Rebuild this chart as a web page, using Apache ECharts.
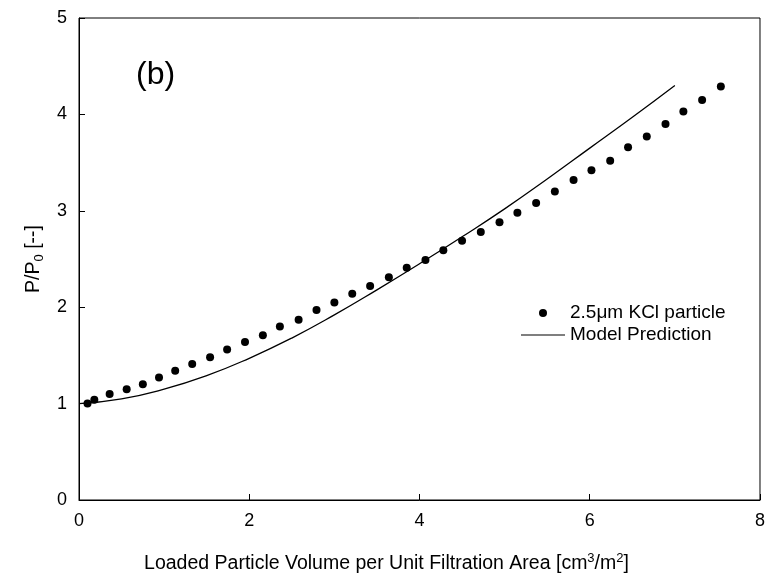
<!DOCTYPE html>
<html>
<head>
<meta charset="utf-8">
<script src="https://cdn.jsdelivr.net/npm/echarts@6/dist/echarts.min.js"></script>
<style>html,body{margin:0;padding:0;background:#fff}#c{width:768px;height:580px}</style>
</head>
<body>
<div id="c"></div>
<script>
// Measured data: 2.5 µm KCl particle
var measX = [0.10, 0.18, 0.36, 0.56, 0.75, 0.94, 1.13, 1.33, 1.54, 1.74, 1.95, 2.16, 2.36, 2.58, 2.79, 3.00, 3.21, 3.42, 3.64, 3.85, 4.07, 4.28, 4.50, 4.72, 4.94, 5.15, 5.37, 5.59, 5.81, 6.02, 6.24, 6.45, 6.67, 6.89, 7.10, 7.32, 7.54];
var measY = [1.00, 1.04, 1.10, 1.15, 1.20, 1.27, 1.34, 1.41, 1.48, 1.56, 1.64, 1.71, 1.80, 1.87, 1.97, 2.05, 2.14, 2.22, 2.31, 2.41, 2.49, 2.59, 2.69, 2.78, 2.88, 2.98, 3.08, 3.20, 3.32, 3.42, 3.52, 3.66, 3.77, 3.90, 4.03, 4.15, 4.29];
// Model prediction curve
var modelX = [0, 0.5, 1.0, 1.5, 2.0, 2.5, 3.0, 3.5, 4.0, 4.5, 5.0, 5.5, 6.0, 6.5, 7.0];
var modelY = [1.00, 1.05, 1.15, 1.29, 1.47, 1.68, 1.92, 2.18, 2.45, 2.73, 3.02, 3.33, 3.65, 3.97, 4.30];
var xTicks = [0, 2, 4, 6, 8];
var yTicks = [0, 1, 2, 3, 4, 5];
var seriesNames = ['2.5\u03bcm KCl particle', 'Model Prediction'];

function zip(a, b) { return a.map(function (v, i) { return [v, b[i]]; }); }

var FONT = '"Liberation Sans", Arial, sans-serif';
var chart = echarts.init(document.getElementById('c'));
chart.setOption({
  animation: false,
  backgroundColor: '#fff',
  textStyle: { fontFamily: FONT, color: '#000' },
  grid: { left: 79, right: 5, top: 18, bottom: 80, show: true, borderColor: '#000', borderWidth: 1, backgroundColor: 'transparent' },
  xAxis: {
    type: 'value', min: xTicks[0], max: xTicks[xTicks.length - 1], interval: 2,
    axisLine: { show: true, lineStyle: { color: '#000', width: 1 } },
    axisTick: { show: true, inside: true, length: 6, lineStyle: { color: '#000' } },
    axisLabel: { color: '#000', fontSize: 18, fontFamily: FONT, margin: 12 },
    splitLine: { show: false },
    name: 'Loaded Particle Volume per Unit Filtration Area [cm{s|3}/m{s|2}]',
    nameLocation: 'middle', nameGap: 52,
    nameTextStyle: {
      color: '#000', fontSize: 19.5, fontFamily: FONT, padding: [0, 66, 0, 0],
      rich: { s: { fontSize: 13, fontFamily: FONT, color: '#000', padding: [0, 0, 11, 0] } }
    }
  },
  yAxis: {
    type: 'value', min: yTicks[0], max: yTicks[yTicks.length - 1], interval: 1,
    axisLine: { show: true, lineStyle: { color: '#000', width: 1 } },
    axisTick: { show: true, inside: true, length: 6, lineStyle: { color: '#000' } },
    axisLabel: { color: '#000', fontSize: 18, fontFamily: FONT, margin: 12 },
    splitLine: { show: false },
    name: 'P/P{s|0} [--]',
    nameLocation: 'middle', nameGap: 33, nameRotate: 90,
    nameTextStyle: {
      color: '#000', fontSize: 19.5, fontFamily: FONT,
      rich: { s: { fontSize: 13, fontFamily: FONT, color: '#000', padding: [11, 0, 0, 0] } }
    }
  },
  legend: {
    left: 516, top: 297, orient: 'vertical', itemWidth: 44, itemHeight: 8, itemGap: 0,
    textStyle: { fontSize: 19, lineHeight: 22, fontFamily: FONT, color: '#000' },
    data: [
      { name: seriesNames[0], icon: 'circle' },
      { name: seriesNames[1], icon: 'path://M0,0L44,0L44,1.2L0,1.2Z' }
    ]
  },
  graphic: [{
    type: 'text', x: 136, y: 75,
    style: { text: '(b)', fontSize: 32, fontFamily: FONT, fill: '#000', textAlign: 'left', textVerticalAlign: 'middle' }
  }],
  series: [
    {
      name: seriesNames[0], type: 'scatter', data: zip(measX, measY),
      symbol: 'circle', symbolSize: 8, itemStyle: { color: '#000', opacity: 1 }, z: 3
    },
    {
      name: seriesNames[1], type: 'line', data: zip(modelX, modelY),
      smooth: true, symbol: 'none', showSymbol: false,
      lineStyle: { color: '#000', width: 1.3 }, itemStyle: { color: '#000' }, z: 2
    }
  ]
});
</script>
</body>
</html>
